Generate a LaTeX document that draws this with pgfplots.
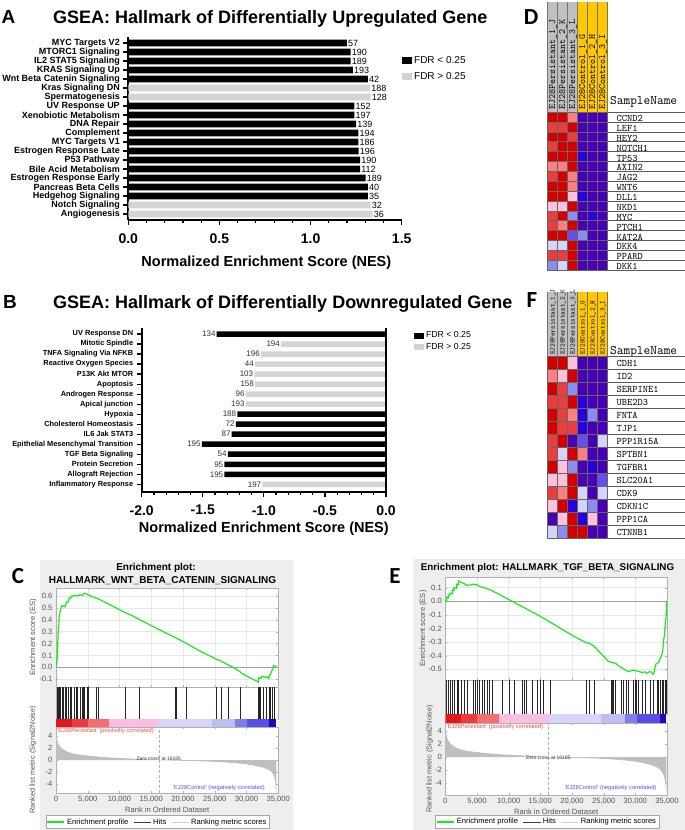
\documentclass[border=0pt]{standalone}
\usepackage{pgfplots}
\pgfplotsset{compat=1.18}
\usepackage{fontspec}
\setmainfont{Liberation Sans}
\newfontfamily\letterfont{Carlito}
\newcommand{\fs}[1]{\fontsize{#1}{#1}\selectfont}
\definecolor{fdrgray}{RGB}{212,212,212}
\definecolor{esgreen}{RGB}{25,235,25}
\definecolor{hdrgray}{RGB}{192,192,192}
\definecolor{hdryel}{RGB}{255,200,0}
\definecolor{bgpanel}{RGB}{238,238,238}
\definecolor{cb1}{RGB}{222,25,25}
\definecolor{cb2}{RGB}{234,60,60}
\definecolor{cb3}{RGB}{243,110,110}
\definecolor{cb4}{RGB}{250,190,225}
\definecolor{cb5}{RGB}{214,214,250}
\definecolor{cb6}{RGB}{190,190,245}
\definecolor{cb7}{RGB}{125,125,236}
\definecolor{cb8}{RGB}{88,78,228}
\definecolor{cb9}{RGB}{40,0,190}
\definecolor{postxt}{RGB}{255,70,70}
\definecolor{negtxt}{RGB}{80,80,255}
\definecolor{axgray}{RGB}{85,85,85}
\pgfplotsset{
  gseapart/.style={scale only axis, anchor=north west, xmin=0, xmax=35000,
    axis background/.style={fill=white}, axis line style={gray!60},
    tick style={gray!60}, major tick length=2pt, scaled x ticks=false,
    /pgf/number format/assume math mode=true},
  heat/.style={scale only axis, anchor=north west, width=60pt,
    xmin=-0.5, xmax=5.5, ymin=-0.5, xtick=\empty,
    axis line style={draw=none}, major tick length=0pt, yticklabel pos=right,
    colormap={hm}{rgb255=(212,0,0) rgb255=(234,62,62) rgb255=(248,128,128) rgb255=(255,192,222) rgb255=(212,212,250) rgb255=(140,140,240) rgb255=(100,80,230) rgb255=(72,0,180) rgb255=(40,0,220)},
    colormap access=direct, clip=false},
}
\begin{document}
\begin{tikzpicture}
\path[use as bounding box] (0pt,0pt) rectangle (685pt,-830pt);
\fill[white] (0pt,0pt) rectangle (685pt,-830pt);
% ---------- letters and titles
\node[font=\bfseries\fs{19}, anchor=base, inner sep=0pt] at (8.5pt,-23pt) {A};
\node[font=\bfseries\fs{18}, anchor=base west, inner sep=0pt] at (53pt,-23pt) {GSEA: Hallmark of Differentially Upregulated Gene};
\node[font=\bfseries\fs{19}, anchor=base, inner sep=0pt] at (10pt,-308pt) {B};
\node[font=\bfseries\fs{18}, anchor=base west, inner sep=0pt] at (53pt,-308pt) {GSEA: Hallmark of Differentially Downregulated Gene};
\node[font=\letterfont\bfseries\fs{23}, anchor=base, inner sep=0pt] at (18pt,-583pt) {C};
\node[font=\letterfont\bfseries\fs{23}, anchor=base, inner sep=0pt] at (395pt,-583pt) {E};
\node[font=\letterfont\bfseries\fs{23}, anchor=base, inner sep=0pt] at (531pt,-24pt) {D};
\node[font=\letterfont\bfseries\fs{23}, anchor=base, inner sep=0pt] at (532pt,-307pt) {F};

% ---------- Panel A
\begin{axis}[
  at={(128.3pt,-37pt)}, anchor=north west,
  scale only axis, width=273.4pt, height=183pt,
  xbar, bar width=6.8pt, bar shift=0pt,
  xmin=0, xmax=1.5, ymin=-0.667, ymax=19.667,
  axis x line*=bottom, axis y line*=left,
  axis line style={line width=1.6pt},
  tick style={black, line width=1.2pt},
  tick align=outside,
  xtick={0,0.5,1,1.5}, minor x tick num=4,
  major tick length=5pt, minor tick length=3pt,
  ytick={0,...,19},
  yticklabels={Angiogenesis, Notch Signaling, Hedgehog Signaling, Pancreas Beta Cells, Estrogen Response Early, Bile Acid Metabolism, P53 Pathway, Estrogen Response Late, MYC Targets V1, Complement, DNA Repair, Xenobiotic Metabolism, UV Response UP, Spermatogenesis, Kras Signaling DN, Wnt Beta Catenin Signaling, KRAS Signaling Up, IL2 STAT5 Signaling, MTORC1 Signaling, MYC Targets V2},
  yticklabel style={font=\bfseries\fs{9}},
  xticklabel style={font=\bfseries\fs{14}, yshift=-5pt, /pgf/number format/.cd, fixed, fixed zerofill, precision=1},
  /pgf/number format/assume math mode=true,
  xlabel={Normalized Enrichment Score (NES)},
  xlabel style={font=\bfseries\fs{14.5}, at={(axis description cs:0.505,-0.235)}, anchor=center},
  nodes near coords, point meta=explicit symbolic,
  nodes near coords style={font=\fs{9}, anchor=west, inner sep=1pt},
  legend image code/.code={\fill[#1] (0pt,-3.5pt) rectangle (10pt,3.5pt);},
  legend style={draw=none, fill=none, at={(axis description cs:0.99,0.915)}, anchor=north west, font=\fs{10}, row sep=3pt},
  legend cell align=left,
  clip=false,
]
\addplot[fill=black, draw=none] coordinates {
(1.199,19) [57] (1.22,18) [190] (1.22,17) [189] (1.232,16) [193] (1.314,15) [42]
(1.24,12) [152] (1.24,11) [197] (1.25,10) [139] (1.262,9) [194] (1.262,8) [186]
(1.264,7) [196] (1.272,6) [190] (1.272,5) [112] (1.302,4) [189] (1.314,3) [40] (1.314,2) [35]};
\addplot[fill=fdrgray, draw=none] coordinates {
(1.327,14) [188] (1.33,13) [128] (1.33,1) [32] (1.341,0) [36]};
\addlegendentry{FDR < 0.25}
\addlegendentry{FDR > 0.25}
\end{axis}

% ---------- Panel B
\begin{axis}[
  at={(141.7pt,-327.7pt)}, anchor=north west,
  scale only axis, width=244.3pt, height=164pt,
  xbar, bar width=5.5pt, bar shift=0pt,
  xmin=-2, xmax=0, ymin=-0.74, ymax=15.63,
  axis x line*=bottom, axis y line*=left,
  axis line style={line width=1.6pt},
  tick style={black, line width=1.2pt},
  tick align=outside,
  xtick={-2,-1.5,-1,-0.5,0}, minor x tick num=4,
  major tick length=5pt, minor tick length=3pt,
  ytick={0,...,15},
  yticklabels={Inflammatory Response, Allograft Rejection, Protein Secretion, TGF Beta Signaling, Epithelial Mesenchymal Transition, IL6 Jak STAT3, Cholesterol Homeostasis, Hypoxia, Apical junction, Androgen Response, Apoptosis, P13K Akt MTOR, Reactive Oxygen Species, TNFA Signaling Via NFKB, Mitotic Spindle, UV Response DN},
  yticklabel style={font=\bfseries\fs{7.4}},
  xticklabel style={font=\bfseries\fs{14}, yshift=-5pt, /pgf/number format/.cd, fixed, fixed zerofill, precision=1},
  /pgf/number format/assume math mode=true,
  xlabel={Normalized Enrichment Score (NES)},
  xlabel style={font=\bfseries\fs{14.5}, at={(axis description cs:0.5,-0.227)}, anchor=center},
  nodes near coords, point meta=explicit symbolic,
  nodes near coords style={font=\fs{8}, text=black!80, anchor=east, inner sep=1pt},
  legend image code/.code={\fill[#1] (0pt,-3pt) rectangle (10.5pt,3pt);},
  legend style={draw=none, fill=none, at={(axis description cs:1.1,1.0)}, anchor=north west, font=\fs{8.7}, row sep=0pt},
  legend cell align=left,
  clip=false,
]
\addplot[fill=black, draw=none] coordinates {
(-1.386,15) [134] (-1.217,7) [188] (-1.230,6) [72] (-1.263,5) [87] (-1.508,4) [195]
(-1.295,3) [54] (-1.323,2) [95] (-1.323,1) [195]};
\addplot[fill=fdrgray, draw=none] coordinates {
(-0.859,14) [194] (-1.023,13) [196] (-1.072,12) [44] (-1.078,11) [103] (-1.072,10) [158]
(-1.148,9) [96] (-1.148,8) [193] (-1.012,0) [197]};
\addlegendentry{FDR < 0.25}
\addlegendentry{FDR > 0.25}
\draw[line width=1.6pt] (axis cs:0,-0.74) -- (axis cs:0,15.63);
\end{axis}

% ---------- Panel D heatmap
\begin{axis}[heat, at={(547pt,-112pt)}, height=158pt, ymax=15.5,
  ytick={0,...,15},
  yticklabels={DKK1,PPARD,DKK4,KAT2A,PTCH1,MYC,NKD1,DLL1,WNT6,JAG2,AXIN2,TP53,NOTCH1,HEY2,LEF1,CCND2},
  yticklabel style={font=\ttfamily\fs{10}, anchor=base west, xshift=6pt, yshift=-4.6pt}]
\fill[hdrgray] (axis cs:-0.5,15.5) rectangle (axis cs:2.5,26.6);
\fill[hdryel] (axis cs:2.5,15.5) rectangle (axis cs:5.5,26.6);
\pgfplotsinvokeforeach{-0.5,0.5,1.5,2.5,3.5,4.5,5.5}{\draw[black!55, line width=0.4pt] (axis cs:#1,15.5) -- (axis cs:#1,26.6);}
\node[rotate=90, anchor=base west, font=\ttfamily\fs{9.6}, inner sep=0pt] at (axis cs:0.3,15.7) {EJ28Persistant\_1\_J};
\node[rotate=90, anchor=base west, font=\ttfamily\fs{9.6}, inner sep=0pt] at (axis cs:1.3,15.7) {EJ28Persistant\_2\_K};
\node[rotate=90, anchor=base west, font=\ttfamily\fs{9.6}, inner sep=0pt] at (axis cs:2.3,15.7) {EJ28Persistant\_3\_L};
\node[rotate=90, anchor=base west, font=\ttfamily\fs{9.6}, inner sep=0pt] at (axis cs:3.3,15.7) {EJ28Control\_1\_G};
\node[rotate=90, anchor=base west, font=\ttfamily\fs{9.6}, inner sep=0pt] at (axis cs:4.3,15.7) {EJ28Control\_2\_H};
\node[rotate=90, anchor=base west, font=\ttfamily\fs{9.6}, inner sep=0pt] at (axis cs:5.3,15.7) {EJ28Control\_3\_I};
\node[anchor=base west, font=\ttfamily\fs{13}, inner sep=0pt] at (axis cs:5.8,16.3) {SampleName};
\addplot[matrix plot*, mesh/cols=6, point meta=explicit, draw=black!60, line width=0.3pt] coordinates {
(0,0)[5] (1,0)[4] (2,0)[0] (3,0)[7] (4,0)[7] (5,0)[7]
(0,1)[1] (1,1)[1] (2,1)[0] (3,1)[7] (4,1)[7] (5,1)[7]
(0,2)[4] (1,2)[4] (2,2)[0] (3,2)[7] (4,2)[7] (5,2)[7]
(0,3)[0] (1,3)[0] (2,3)[6] (3,3)[5] (4,3)[7] (5,3)[7]
(0,4)[1] (1,4)[2] (2,4)[0] (3,4)[7] (4,4)[7] (5,4)[7]
(0,5)[1] (1,5)[0] (2,5)[5] (3,5)[7] (4,5)[8] (5,5)[7]
(0,6)[3] (1,6)[3] (2,6)[0] (3,6)[7] (4,6)[7] (5,6)[7]
(0,7)[0] (1,7)[0] (2,7)[3] (3,7)[8] (4,7)[7] (5,7)[7]
(0,8)[0] (1,8)[0] (2,8)[2] (3,8)[7] (4,8)[7] (5,8)[7]
(0,9)[1] (1,9)[0] (2,9)[2] (3,9)[7] (4,9)[7] (5,9)[7]
(0,10)[2] (1,10)[2] (2,10)[0] (3,10)[7] (4,10)[7] (5,10)[7]
(0,11)[0] (1,11)[0] (2,11)[0] (3,11)[8] (4,11)[7] (5,11)[7]
(0,12)[1] (1,12)[0] (2,12)[0] (3,12)[7] (4,12)[7] (5,12)[7]
(0,13)[0] (1,13)[0] (2,13)[1] (3,13)[7] (4,13)[7] (5,13)[7]
(0,14)[1] (1,14)[1] (2,14)[0] (3,14)[7] (4,14)[7] (5,14)[7]
(0,15)[0] (1,15)[0] (2,15)[2] (3,15)[7] (4,15)[7] (5,15)[7]};
\pgfplotsinvokeforeach{-0.5,0.5,1.5,2.5,3.5,4.5,5.5,6.5,7.5,8.5,9.5,10.5,11.5,12.5,13.5,14.5,15.5}{\draw[black!65, line width=0.5pt] (axis cs:5.5,#1) -- ++(78pt,0pt);}
\end{axis}

% ---------- Panel F heatmap
\begin{axis}[heat, at={(547pt,-356pt)}, height=182pt, ymax=13.5,
  ytick={0,...,13},
  yticklabels={CTNNB1,PPP1CA,CDKN1C,CDK9,SLC20A1,TGFBR1,SPTBN1,PPP1R15A,TJP1,FNTA,UBE2D3,SERPINE1,ID2,CDH1},
  yticklabel style={font=\ttfamily\fs{10}, anchor=base west, xshift=6pt, yshift=-3.5pt}]
\fill[hdrgray] (axis cs:-0.5,13.5) rectangle (axis cs:2.5,18.45);
\fill[hdryel] (axis cs:2.5,13.5) rectangle (axis cs:5.5,18.45);
\pgfplotsinvokeforeach{-0.5,0.5,1.5,2.5,3.5,4.5,5.5}{\draw[black!55, line width=0.4pt] (axis cs:#1,13.5) -- (axis cs:#1,18.45);}
\node[rotate=90, anchor=base west, font=\ttfamily\fs{6.8}, inner sep=0pt] at (axis cs:0.25,13.58) {EJ28Persistant\_1\_J};
\node[rotate=90, anchor=base west, font=\ttfamily\fs{6.8}, inner sep=0pt] at (axis cs:1.25,13.58) {EJ28Persistant\_2\_K};
\node[rotate=90, anchor=base west, font=\ttfamily\fs{6.8}, inner sep=0pt] at (axis cs:2.25,13.58) {EJ28Persistant\_3\_L};
\node[rotate=90, anchor=base west, font=\ttfamily\fs{6.8}, inner sep=0pt] at (axis cs:3.25,13.58) {EJ28Control\_1\_G};
\node[rotate=90, anchor=base west, font=\ttfamily\fs{6.8}, inner sep=0pt] at (axis cs:4.25,13.58) {EJ28Control\_2\_H};
\node[rotate=90, anchor=base west, font=\ttfamily\fs{6.8}, inner sep=0pt] at (axis cs:5.25,13.58) {EJ28Control\_3\_I};
\node[anchor=base west, font=\ttfamily\fs{13}, inner sep=0pt] at (axis cs:5.8,13.65) {SampleName};
\addplot[matrix plot*, mesh/cols=6, point meta=explicit, draw=black!60, line width=0.3pt] coordinates {
(0,0)[4] (1,0)[5] (2,0)[0] (3,0)[0] (4,0)[7] (5,0)[7]
(0,1)[7] (1,1)[3] (2,1)[0] (3,1)[8] (4,1)[3] (5,1)[7]
(0,2)[3] (1,2)[0] (2,2)[8] (3,2)[4] (4,2)[5] (5,2)[7]
(0,3)[1] (1,3)[2] (2,3)[0] (3,3)[4] (4,3)[7] (5,3)[4]
(0,4)[3] (1,4)[3] (2,4)[0] (3,4)[7] (4,4)[7] (5,4)[6]
(0,5)[0] (1,5)[3] (2,5)[5] (3,5)[7] (4,5)[8] (5,5)[7]
(0,6)[1] (1,6)[4] (2,6)[0] (3,6)[2] (4,6)[7] (5,6)[7]
(0,7)[1] (1,7)[0] (2,7)[7] (3,7)[6] (4,7)[7] (5,7)[4]
(0,8)[0] (1,8)[1] (2,8)[1] (3,8)[8] (4,8)[7] (5,8)[7]
(0,9)[0] (1,9)[1] (2,9)[2] (3,9)[8] (4,9)[5] (5,9)[7]
(0,10)[1] (1,10)[1] (2,10)[0] (3,10)[8] (4,10)[7] (5,10)[7]
(0,11)[0] (1,11)[1] (2,11)[5] (3,11)[7] (4,11)[7] (5,11)[7]
(0,12)[2] (1,12)[3] (2,12)[0] (3,12)[7] (4,12)[7] (5,12)[7]
(0,13)[0] (1,13)[0] (2,13)[3] (3,13)[7] (4,13)[7] (5,13)[7]};
\pgfplotsinvokeforeach{-0.5,0.5,1.5,2.5,3.5,4.5,5.5,6.5,7.5,8.5,9.5,10.5,11.5,12.5,13.5}{\draw[black!65, line width=0.5pt] (axis cs:5.5,#1) -- ++(78pt,0pt);}
\end{axis}

% ---------- Panel C
\fill[bgpanel] (40pt,-560pt) rectangle (293pt,-830pt);
\node[font=\bfseries\fs{10}] at (156pt,-568pt) {Enrichment plot:};
\node[font=\bfseries\fs{10}] at (162.5pt,-581pt) {HALLMARK\_WNT\_BETA\_CATENIN\_SIGNALING};
\begin{axis}[gseapart, at={(56pt,-588pt)}, width=222.3pt, height=99pt,
  ymin=-0.165, ymax=0.667, xtick={0,5000,...,35000}, xticklabels={},
  ytick={-0.1,0,0.1,0.2,0.3,0.4,0.5,0.6}, grid=major, grid style={gray!18},
  yticklabel style={font=\fs{7.6}, text=axgray, /pgf/number format/.cd, fixed, fixed zerofill, precision=1},
  ylabel={Enrichment score (ES)}, ylabel style={font=\fs{7.6}, text=axgray, at={(axis description cs:-0.103,0.5)}, anchor=center}]
\addplot[gray!75, line width=0.6pt] coordinates {(0,0) (35000,0)};
\addplot[esgreen, line width=1.2pt] coordinates {
(0,0) (100,0.02) (200,0.09) (280,0.2) (370,0.34) (450,0.36) (500,0.43) (600,0.45) (680,0.48) (800,0.5) (950,0.52) (1200,0.515) (1450,0.51) (1550,0.53) (1700,0.55) (1900,0.55) (2100,0.585) (2300,0.58) (2450,0.6) (2800,0.598) (2850,0.605) (3150,0.605) (3400,0.6) (3800,0.61) (4200,0.605) (4350,0.62) (4700,0.62) (5100,0.61) (5400,0.6) (6400,0.58) (6700,0.575) (8000,0.54) (10900,0.46) (12170,0.43) (13200,0.40) (17400,0.286) (18800,0.25) (20600,0.2) (22660,0.137) (25200,0.07) (26100,0.05) (27100,0.02) (27900,0.0) (28960,-0.035) (29100,-0.045) (30270,-0.08) (31000,-0.1) (31850,-0.122) (31950,-0.085) (32300,-0.092) (32400,-0.075) (32900,-0.085) (33150,-0.078) (33500,-0.095) (33600,-0.07) (33800,-0.055) (33950,-0.03) (34100,-0.02) (34250,0.015) (34500,0.01) (34700,0.0)};
\end{axis}
\begin{axis}[gseapart, at={(56pt,-687pt)}, width=222.3pt, height=32pt, ymin=0, ymax=1, xtick=\empty, ytick=\empty]
\addplot[ycomb, black!85, line width=0.45pt, mark=none] coordinates {
(210,1) (367,1) (525,1) (735,1) (944,1) (1154,1) (1417,1) (1679,1) (1941,1) (2204,1) (2466,1) (2833,1) (3148,1) (3358,1) (3778,1) (4197,1) (4302,1) (4460,1) (4932,1) (5089,1) (6401,1) (6663,1) (10860,1) (13116,1) (18730,1) (18890,1) (20570,1) (25180,1) (26080,1) (27130,1) (29070,1) (31850,1) (32000,1) (32200,1) (32630,1) (33150,1) (33580,1) (33790,1) (34100,1) (34300,1)};
\end{axis}
\begin{axis}[gseapart, at={(56pt,-719pt)}, width=222.3pt, height=8.3pt, ymin=0, ymax=1, xtick=\empty, ytick=\empty, axis line style={draw=none}]
\addplot[fill=cb1, draw=none] coordinates {(0,0) (2500,0) (2500,1) (0,1)} --cycle;
\addplot[fill=cb2, draw=none] coordinates {(2500,0) (5000,0) (5000,1) (2500,1)} --cycle;
\addplot[fill=cb3, draw=none] coordinates {(5000,0) (8400,0) (8400,1) (5000,1)} --cycle;
\addplot[fill=cb4, draw=none] coordinates {(8400,0) (16200,0) (16200,1) (8400,1)} --cycle;
\addplot[fill=cb5, draw=none] coordinates {(16200,0) (24500,0) (24500,1) (16200,1)} --cycle;
\addplot[fill=cb6, draw=none] coordinates {(24500,0) (28200,0) (28200,1) (24500,1)} --cycle;
\addplot[fill=cb7, draw=none] coordinates {(28200,0) (30000,0) (30000,1) (28200,1)} --cycle;
\addplot[fill=cb8, draw=none] coordinates {(30000,0) (33600,0) (33600,1) (30000,1)} --cycle;
\addplot[fill=cb9, draw=none] coordinates {(33600,0) (34700,0) (34700,1) (33600,1)} --cycle;
\end{axis}
\begin{axis}[gseapart, at={(56pt,-727pt)}, width=222.3pt, height=66pt,
  ymin=-5.44, ymax=5.5, ytick={-4,-2,0,2,4}, xtick={0,5000,...,35000},
  xticklabel style={font=\fs{7.6}, text=axgray, /pgf/number format/1000 sep={,}},
  yticklabel style={font=\fs{7.6}, text=axgray},
  xlabel={Rank in Ordered Dataset}, xlabel style={font=\fs{7.6}, text=axgray, yshift=3pt},
  ylabel={Ranked list metric (Signal2Noise)}, ylabel style={font=\fs{7.3}, text=axgray, at={(axis description cs:-0.103,0.5)}, anchor=center},
  legend style={at={(axis description cs:0.457,-0.44)}, anchor=center, legend columns=-1, draw=gray!70, font=\fs{7.6}, inner sep=1pt, /tikz/every even column/.append style={column sep=3pt}},
  clip=false]
\addplot[fill=gray!50, draw=none, forget plot] coordinates {
(0,0) (0,5.0) (30,4.4) (100,3.9) (200,3.3) (400,2.7) (700,2.2) (1000,1.9) (1700,1.45) (2500,1.15) (3500,0.95) (4500,0.82) (6000,0.65) (8000,0.48) (10000,0.36) (12000,0.26) (14000,0.15) (16185,0) (18000,-0.05) (20000,-0.1) (22000,-0.14) (24000,-0.22) (26000,-0.32) (28000,-0.47) (29500,-0.62) (31000,-0.85) (32500,-1.2) (33500,-1.6) (34000,-2.0) (34300,-2.6) (34500,-3.5) (34600,-4.6) (34700,-5.3) (34700,0)} --cycle;
\addplot[gray!60, densely dashed, line width=0.4pt, forget plot] coordinates {(16185,-5.44) (16185,5.5)};
\node[font=\fs{5}, text=black!80] at (axis cs:16185,0.3) {Zero cross at 16185};
\node[font=\fs{5.7}, text=postxt, anchor=west, inner sep=0pt] at (axis cs:150,4.84) {'EJ28Persistant' (positively correlated)};
\node[font=\fs{5.7}, text=negtxt, anchor=east, inner sep=0pt] at (axis cs:32905,-4.56) {'EJ28Control' (negatively correlated)};
\addlegendimage{esgreen, line width=1.2pt}\addlegendentry{Enrichment profile}
\addlegendimage{black!75, line width=0.8pt}\addlegendentry{Hits}
\addlegendimage{gray!35, line width=0.8pt}\addlegendentry{Ranking metric scores}
\end{axis}

% ---------- Panel E
\fill[bgpanel] (412.7pt,-559pt) rectangle (685pt,-830pt);
\node[font=\bfseries\fs{9.8}] at (547.5pt,-568pt) {Enrichment plot: HALLMARK\_TGF\_BETA\_SIGNALING};
\begin{axis}[gseapart, at={(445.3pt,-577.3pt)}, width=221.7pt, height=102.7pt,
  ymin=-0.579, ymax=0.176, xtick={0,5000,...,35000}, xticklabels={},
  ytick={-0.5,-0.4,-0.3,-0.2,-0.1,0,0.1}, grid=major, grid style={gray!18},
  yticklabel style={font=\fs{7.6}, text=axgray, /pgf/number format/.cd, fixed, fixed zerofill, precision=1},
  ylabel={Enrichment score (ES)}, ylabel style={font=\fs{7.6}, text=axgray, at={(axis description cs:-0.1,0.5)}, anchor=center}]
\addplot[gray!75, line width=0.6pt] coordinates {(0,0) (35000,0)};
\addplot[esgreen, line width=1.2pt] coordinates {
(0,0) (200,0) (212,0.03) (460,0.025) (478,0.045) (720,0.04) (743,0.06) (1100,0.055) (1115,0.085) (1360,0.08) (1381,0.1) (1790,0.095) (1806,0.125) (2060,0.12) (2071,0.15) (2440,0.14) (2974,0.13) (3399,0.115) (3450,0.12) (3930,0.118) (4355,0.125) (4727,0.124) (4992,0.12) (5520,0.107) (6160,0.1) (7120,0.083) (8700,0.046) (9770,0.019) (12160,-0.04) (15080,-0.113) (17500,-0.18) (20390,-0.26) (22250,-0.305) (22780,-0.31) (23470,-0.33) (25700,-0.44) (26230,-0.45) (26870,-0.455) (27300,-0.474) (28900,-0.518) (29690,-0.505) (29950,-0.51) (31000,-0.522) (31550,-0.52) (31800,-0.53) (32340,-0.515) (32870,-0.537) (33240,-0.462) (33670,-0.45) (33930,-0.42) (34200,-0.39) (34310,-0.37) (34470,-0.285) (34600,-0.25) (34750,-0.15) (34850,-0.126) (34950,0.0)};
\end{axis}
\begin{axis}[gseapart, at={(445.3pt,-680pt)}, width=221.7pt, height=34.3pt, ymin=0, ymax=1, xtick=\empty, ytick=\empty]
\addplot[ycomb, black!85, line width=0.45pt, mark=none] coordinates {
(212,1) (478,1) (743,1) (1115,1) (1381,1) (1806,1) (2071,1) (2443,1) (2974,1) (3399,1) (4355,1) (4727,1) (4992,1) (5417,1) (5789,1) (6160,1) (6585,1) (7010,1) (7382,1) (8975,1) (10037,1) (10834,1) (12161,1) (12533,1) (12852,1) (13755,1) (14551,1) (14976,1) (15507,1) (16569,1) (22252,1) (22783,1) (23473,1) (26129,1) (26235,1) (26341,1) (26500,1) (26872,1) (27828,1) (28094,1) (28625,1) (28890,1) (29687,1) (29953,1) (30218,1) (30483,1) (31014,1) (31545,1) (32342,1) (32873,1) (33404,1) (33669,1) (33935,1) (34200,1) (34466,1) (34731,1) (34900,1)};
\end{axis}
\begin{axis}[gseapart, at={(445.3pt,-714.3pt)}, width=221.7pt, height=8.4pt, ymin=0, ymax=1, xtick=\empty, ytick=\empty, axis line style={draw=none}]
\addplot[fill=cb1, draw=none] coordinates {(0,0) (2500,0) (2500,1) (0,1)} --cycle;
\addplot[fill=cb2, draw=none] coordinates {(2500,0) (5000,0) (5000,1) (2500,1)} --cycle;
\addplot[fill=cb3, draw=none] coordinates {(5000,0) (8440,0) (8440,1) (5000,1)} --cycle;
\addplot[fill=cb4, draw=none] coordinates {(8440,0) (16410,0) (16410,1) (8440,1)} --cycle;
\addplot[fill=cb5, draw=none] coordinates {(16410,0) (24640,0) (24640,1) (16410,1)} --cycle;
\addplot[fill=cb6, draw=none] coordinates {(24640,0) (28360,0) (28360,1) (24640,1)} --cycle;
\addplot[fill=cb7, draw=none] coordinates {(28360,0) (30200,0) (30200,1) (28360,1)} --cycle;
\addplot[fill=cb8, draw=none] coordinates {(30200,0) (33935,0) (33935,1) (30200,1)} --cycle;
\addplot[fill=cb9, draw=none] coordinates {(33935,0) (34900,0) (34900,1) (33935,1)} --cycle;
\end{axis}
\begin{axis}[gseapart, at={(445.3pt,-722.7pt)}, width=221.7pt, height=72.3pt,
  ymin=-5.8, ymax=5.27, ytick={-4,-2,0,2,4}, xtick={0,5000,...,35000},
  xticklabel style={font=\fs{7.6}, text=axgray, /pgf/number format/1000 sep={,}},
  yticklabel style={font=\fs{7.6}, text=axgray},
  xlabel={Rank in Ordered Dataset}, xlabel style={font=\fs{7.6}, text=axgray, yshift=3pt},
  ylabel={Ranked list metric (Signal2Noise)}, ylabel style={font=\fs{7.3}, text=axgray, at={(axis description cs:-0.07,0.5)}, anchor=center},
  legend style={at={(axis description cs:0.46,-0.373)}, anchor=center, legend columns=-1, draw=gray!70, font=\fs{7.6}, inner sep=1pt, /tikz/every even column/.append style={column sep=3pt}},
  clip=false]
\addplot[fill=gray!50, draw=none, forget plot] coordinates {
(0,0) (0,5.0) (30,4.4) (100,3.9) (200,3.3) (400,2.7) (700,2.2) (1000,1.9) (1700,1.45) (2500,1.15) (3500,0.95) (4500,0.82) (6000,0.65) (8000,0.48) (10000,0.36) (12000,0.26) (14000,0.15) (16185,0) (18000,-0.05) (20000,-0.1) (22000,-0.14) (24000,-0.22) (26000,-0.32) (28000,-0.47) (29500,-0.62) (31000,-0.85) (32500,-1.2) (33500,-1.6) (34000,-2.0) (34400,-2.6) (34650,-3.5) (34800,-4.6) (34900,-5.3) (34900,0)} --cycle;
\addplot[gray!60, densely dashed, line width=0.4pt, forget plot] coordinates {(16185,-5.8) (16185,5.27)};
\node[font=\fs{5}, text=black!80] at (axis cs:16260,-0.08) {Zero cross at 16185};
\node[font=\fs{5.7}, text=postxt, anchor=west, inner sep=0pt] at (axis cs:150,4.66) {'EJ28Persistant' (positively correlated)};
\node[font=\fs{5.7}, text=negtxt, anchor=east, inner sep=0pt] at (axis cs:33360,-4.68) {'EJ28Control' (negatively correlated)};
\addlegendimage{esgreen, line width=1.2pt}\addlegendentry{Enrichment profile}
\addlegendimage{black!75, line width=0.8pt}\addlegendentry{Hits}
\addlegendimage{gray!35, line width=0.8pt}\addlegendentry{Ranking metric scores}
\end{axis}
\end{tikzpicture}
\end{document}
